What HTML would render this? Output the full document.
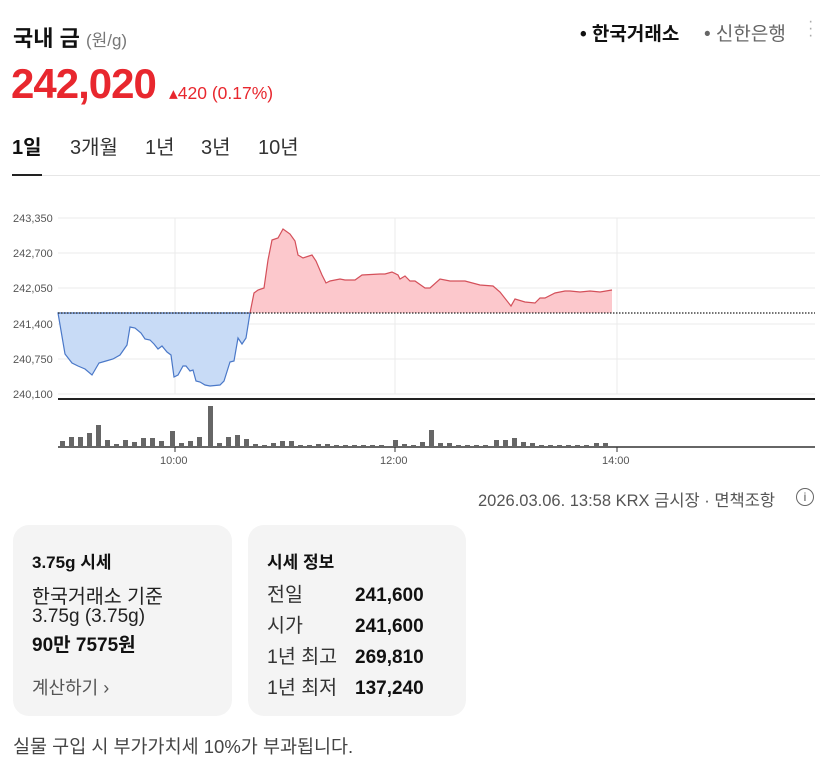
<!DOCTYPE html>
<html><head><meta charset="utf-8">
<style>
body{margin:0;width:830px;height:769px;background:#fff;font-family:"Liberation Sans","Noto Sans CJK KR",sans-serif;position:relative;overflow:hidden;color:#111}
.a{position:absolute;white-space:nowrap}
.card{position:absolute;background:#f4f4f4;border-radius:16px}
</style></head><body>
<div class="a" style="left:13px;top:21px;font-size:22px;font-weight:bold">국내 금 <span style="font-size:17px;font-weight:normal;color:#777">(원/g)</span></div>
<div class="a" style="left:580px;top:19px;font-size:19px;font-weight:bold">• 한국거래소</div>
<div class="a" style="left:704px;top:19px;font-size:19px;color:#666">• 신한은행</div>
<div class="a" style="left:808px;top:18px;font-size:16px;color:#aaa;line-height:7px">·<br>·<br>·</div>
<div class="a" style="left:11px;top:60px;font-size:42px;font-weight:bold;color:#e8272e;letter-spacing:-1px">242,020</div>
<div class="a" style="left:169px;top:83px;font-size:17.5px;color:#e8272e">▴420 (0.17%)</div>
<div class="a" style="left:12px;top:131px;font-size:20px;font-weight:bold">1일</div>
<div class="a" style="left:70px;top:131px;font-size:20px;color:#333">3개월</div>
<div class="a" style="left:145px;top:131px;font-size:20px;color:#333">1년</div>
<div class="a" style="left:201px;top:131px;font-size:20px;color:#333">3년</div>
<div class="a" style="left:258px;top:131px;font-size:20px;color:#333">10년</div>
<div class="a" style="left:12px;top:175px;width:808px;height:1px;background:#e6e6e6"></div>
<div class="a" style="left:12px;top:174px;width:30px;height:2px;background:#222"></div>
<svg class="a" style="left:0;top:0" width="830" height="480">
<g stroke="#ebebeb" stroke-width="1">
<line x1="58" y1="218" x2="815" y2="218"/><line x1="58" y1="253" x2="815" y2="253"/><line x1="58" y1="288" x2="815" y2="288"/><line x1="58" y1="324" x2="815" y2="324"/><line x1="58" y1="359" x2="815" y2="359"/><line x1="58" y1="394" x2="815" y2="394"/>
<line x1="175" y1="218" x2="175" y2="394"/><line x1="395" y1="218" x2="395" y2="394"/><line x1="617" y1="218" x2="617" y2="394"/>
</g>
<g font-size="11" fill="#555" font-family="Liberation Sans,sans-serif">
<text x="13" y="222">243,350</text><text x="13" y="257">242,700</text><text x="13" y="292">242,050</text><text x="13" y="328">241,400</text><text x="13" y="363">240,750</text><text x="13" y="398">240,100</text>
<text x="160" y="464">10:00</text><text x="380" y="464">12:00</text><text x="602" y="464">14:00</text>
</g>
<polygon fill="#c8dbf6" stroke="#4a78c8" stroke-width="1.2" points="58,313 65,354 72,363 78,366 85,369 92,375 99,363 106,361 113,359 120,355 127,345 130,327 135,328 141,333 145,339 150,340 154,344 158,349 162,346 167,352 171,355 174,377 178,375 183,366 186,366 190,371 193,370 196,381 200,382 205,385 210,386 220,385 224,381 230,362 234,361 238,338 242,344 246,338 250,313"/>
<polygon fill="#fcc8cc" stroke="none" points="250,313 254,293 258,290 264,288 268,260 272,240 278,238 283,229 290,234 295,241 298,255 303,258 312,255 316,261 322,275 326,283 330,281 340,279 345,280 355,280 362,275 380,274 385,274 392,272 398,275 400,279 405,276 410,281 415,281 425,288 430,288 440,279 450,281 465,281 480,285 493,286 500,292 511,306 515,299 525,302 535,303 540,298 545,298 555,293 565,291 570,291 580,292 590,291 600,292 612,290 612,313"/>
<polyline fill="none" stroke="#d4505a" stroke-width="1.2" points="250,313 254,293 258,290 264,288 268,260 272,240 278,238 283,229 290,234 295,241 298,255 303,258 312,255 316,261 322,275 326,283 330,281 340,279 345,280 355,280 362,275 380,274 385,274 392,272 398,275 400,279 405,276 410,281 415,281 425,288 430,288 440,279 450,281 465,281 480,285 493,286 500,292 511,306 515,299 525,302 535,303 540,298 545,298 555,293 565,291 570,291 580,292 590,291 600,292 612,290"/>
<line x1="58" y1="313" x2="815" y2="313" stroke="#222" stroke-width="1.2" stroke-dasharray="1.5,1.5"/>
<line x1="58" y1="399" x2="815" y2="399" stroke="#222" stroke-width="2"/>
<line x1="58" y1="447" x2="815" y2="447" stroke="#333" stroke-width="1.5"/>
<line x1="175" y1="447" x2="175" y2="452" stroke="#333"/><line x1="395" y1="447" x2="395" y2="452" stroke="#333"/><line x1="617" y1="447" x2="617" y2="452" stroke="#333"/>
<g fill="#666">
<rect x="60" y="441" width="5" height="6"/><rect x="69" y="437" width="5" height="10"/><rect x="78" y="437" width="5" height="10"/><rect x="87" y="433" width="5" height="14"/><rect x="96" y="425" width="5" height="22"/><rect x="105" y="440" width="5" height="7"/><rect x="114" y="444" width="5" height="3"/><rect x="123" y="440" width="5" height="7"/><rect x="132" y="442" width="5" height="5"/><rect x="141" y="438" width="5" height="9"/><rect x="150" y="438" width="5" height="9"/><rect x="159" y="441" width="5" height="6"/><rect x="170" y="431" width="5" height="16"/><rect x="179" y="443" width="5" height="4"/><rect x="188" y="441" width="5" height="6"/><rect x="197" y="437" width="5" height="10"/><rect x="208" y="406" width="5" height="41"/><rect x="217" y="443" width="5" height="4"/><rect x="226" y="437" width="5" height="10"/><rect x="235" y="435" width="5" height="12"/><rect x="244" y="439" width="5" height="8"/><rect x="253" y="444" width="5" height="3"/><rect x="262" y="445" width="5" height="2"/><rect x="271" y="443" width="5" height="4"/><rect x="280" y="441" width="5" height="6"/><rect x="289" y="441" width="5" height="6"/>
<rect x="298" y="445" width="5" height="2"/><rect x="307" y="445" width="5" height="2"/><rect x="316" y="444" width="5" height="3"/><rect x="325" y="444" width="5" height="3"/><rect x="334" y="445" width="5" height="2"/><rect x="343" y="445" width="5" height="2"/><rect x="352" y="445" width="5" height="2"/><rect x="361" y="445" width="5" height="2"/><rect x="370" y="445" width="5" height="2"/><rect x="379" y="445" width="5" height="2"/><rect x="393" y="440" width="5" height="7"/><rect x="402" y="444" width="5" height="3"/><rect x="411" y="445" width="5" height="2"/><rect x="420" y="442" width="5" height="5"/><rect x="429" y="430" width="5" height="17"/><rect x="438" y="443" width="5" height="4"/><rect x="447" y="443" width="5" height="4"/><rect x="456" y="445" width="5" height="2"/><rect x="465" y="445" width="5" height="2"/><rect x="474" y="445" width="5" height="2"/><rect x="483" y="445" width="5" height="2"/><rect x="494" y="440" width="5" height="7"/><rect x="503" y="440" width="5" height="7"/><rect x="512" y="438" width="5" height="9"/><rect x="521" y="442" width="5" height="5"/><rect x="530" y="443" width="5" height="4"/><rect x="539" y="445" width="5" height="2"/><rect x="548" y="445" width="5" height="2"/><rect x="557" y="445" width="5" height="2"/><rect x="566" y="445" width="5" height="2"/><rect x="575" y="445" width="5" height="2"/><rect x="584" y="445" width="5" height="2"/><rect x="594" y="443" width="5" height="4"/><rect x="603" y="443" width="5" height="4"/>
</g>
</svg>
<div class="a" style="left:478px;top:487px;font-size:16.5px;color:#555">2026.03.06. 13:58 KRX 금시장 · 면책조항</div>
<div class="a" style="left:796px;top:488px;width:16px;height:16px;border:1.3px solid #666;border-radius:50%;font-size:12px;color:#555;text-align:center;line-height:16px">i</div>
<div class="card" style="left:13px;top:525px;width:219px;height:191px"></div>
<div class="card" style="left:248px;top:525px;width:218px;height:191px"></div>
<div class="a" style="left:32px;top:548px;font-size:17px;font-weight:bold">3.75g 시세</div>
<div class="a" style="left:32px;top:580px;font-size:19.5px;color:#222">한국거래소 기준</div>
<div class="a" style="left:32px;top:606px;font-size:19px;color:#222">3.75g (3.75g)</div>
<div class="a" style="left:32px;top:630px;font-size:19px;font-weight:bold">90만 7575원</div>
<div class="a" style="left:32px;top:674px;font-size:18px;color:#555">계산하기 ›</div>
<div class="a" style="left:267px;top:548px;font-size:17px;font-weight:bold">시세 정보</div>
<div class="a" style="left:267px;top:580px;font-size:19.5px;color:#333;line-height:31px">전일<br>시가<br>1년 최고<br>1년 최저</div>
<div class="a" style="left:355px;top:580px;font-size:19px;font-weight:bold;line-height:31px">241,600<br>241,600<br>269,810<br>137,240</div>
<div class="a" style="left:13px;top:733px;font-size:18.5px;color:#444">실물 구입 시 부가가치세 10%가 부과됩니다.</div>
</body></html>
